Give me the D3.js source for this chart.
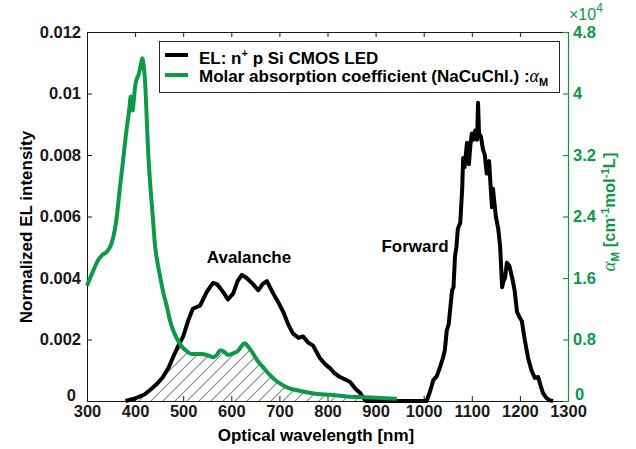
<!DOCTYPE html>
<html><head><meta charset="utf-8">
<script src="https://cdn.jsdelivr.net/npm/d3@7"></script>
<style>
body{margin:0;background:#fff;}
svg text{font-family:"Liberation Sans",Arial,Helvetica,sans-serif;}
</style></head><body>
<svg id="chart" width="636" height="449"></svg>
<script>
// ---- data ----
const elWavelength = [380,400,420,431,445,458,470,479,490,500,510,520,535,549,562,570,577,585,593,604,613,622,632,645,656,665,674,687,698,708,718,728,740,749,760,770,784,795,805,815,826,837,847,858,868,875,880,
  1000,1006,1013,1020,1027,1034,1040,1044,1048,1052,1059,1062,1065,1068,1071,1076,1080,1082,1085,1090,1094,1097,1100,1104,1107,1111,1113,1115,1119,1123,1127,1131,1136,1139,1142,1144,1150,1155,1159,1163,1166,1169,1173,1178,1184,1189,1194,1200,1204,1210,1217,1224,1231,1238,1243,1248,1255,1262,1269];
const elIntensity = [0,0.00008,0.00022,0.00036,0.00055,0.00078,0.0011,0.00143,0.0018,0.0021,0.0026,0.0030,0.0031,0.00355,0.00384,0.0038,0.00367,0.0035,0.0033,0.0035,0.0039,0.0041,0.0040,0.0038,0.0036,0.0038,0.0039,0.0035,0.0032,0.0029,0.0025,0.0022,0.00205,0.0021,0.0019,0.0018,0.0014,0.0012,0.00107,0.0009,0.00078,0.0007,0.00062,0.0004,0.00026,0.0001,0,
  0,0,0.0003,0.00068,0.0008,0.0011,0.0014,0.00166,0.0023,0.0025,0.0036,0.0037,0.0047,0.0050,0.0056,0.0058,0.0069,0.0079,0.0076,0.0084,0.0077,0.0083,0.0087,0.0085,0.0088,0.0085,0.0097,0.0087,0.0086,0.0082,0.0080,0.0074,0.0078,0.0070,0.0063,0.0069,0.0060,0.0056,0.0050,0.0037,0.0039,0.0040,0.0045,0.0044,0.0040,0.0036,0.0029,0.0027,0.0026,0.0020,0.0014,0.0010,0.00075,0.00078,0.0005,0.00026,0.0001,0.00002,0];

const absWavelength = [300,312,323,332,341,351,357,362,368,375,382,388,391,392,395,397,401,408,412,415,418,421,424,427,431,434,438,441,446,452,459,466,472,479,488,497,507,518,538,553,563,570,577,585,593,604,615,622,628,636,645,655,666,680,690,701,718,737,760,780,805,840,874,910,944];
const absCoeff = [1.50,1.68,1.83,1.90,1.94,2.05,2.20,2.40,2.75,3.13,3.52,3.80,3.96,3.80,3.78,3.90,4.13,4.26,4.38,4.46,4.35,4.13,3.70,3.26,2.85,2.61,2.30,2.05,1.82,1.62,1.40,1.23,1.06,0.92,0.80,0.71,0.65,0.61,0.61,0.59,0.57,0.60,0.66,0.64,0.60,0.62,0.66,0.72,0.75,0.70,0.62,0.52,0.44,0.34,0.28,0.23,0.17,0.14,0.11,0.09,0.08,0.06,0.05,0.04,0.03]; // x10^4

const xTicks = [300,400,500,600,700,800,900,1000,1100,1200,1300];
const yLeftTicks = [0,0.002,0.004,0.006,0.008,0.01,0.012];
const yLeftLabels = ["0","0.002","0.004","0.006","0.008","0.01","0.012"];
const yRightTicks = [0,0.8,1.6,2.4,3.2,4,4.8];
const yRightLabels = ["0","0.8","1.6","2.4","3.2","4","4.8"];

const GREEN = "#0c9a47";
const L = 87, R = 568, T = 32, B = 401;

const svg = d3.select("#chart");
const x = d3.scaleLinear().domain([300,1300]).range([L,R]);
const yL = d3.scaleLinear().domain([0,0.012]).range([B,T]);
const yR = d3.scaleLinear().domain([0,4.8]).range([B,T]);

const el = elWavelength.map((w,i)=>({w, v: elIntensity[i]}));
const ab = absWavelength.map((w,i)=>({w, v: absCoeff[i]}));

// hatch pattern
const defs = svg.append("defs");
const pat = defs.append("pattern").attr("id","hatch").attr("patternUnits","userSpaceOnUse")
  .attr("width",12).attr("height",12);
pat.append("path").attr("d","M-3,3 L3,-3 M0,12 L12,0 M9,15 L15,9")
  .attr("stroke","#8a8a8a").attr("stroke-width",1.1);
defs.append("clipPath").attr("id","underGreen").append("path")
  .attr("d", d3.area().curve(d3.curveMonotoneX).x(d=>x(d.w)).y0(B).y1(d=>yR(d.v))(ab));

svg.append("path")
  .attr("d", d3.area().x(d=>x(d.w)).y0(B).y1(d=>yL(d.v))(el.filter(d=>d.w<=950)))
  .attr("fill","url(#hatch)").attr("clip-path","url(#underGreen)");

// axes
const fs = "16.5px";
const ax = svg.append("g").attr("transform",`translate(0,${B})`)
  .call(d3.axisBottom(x).tickValues(xTicks).tickSize(-5).tickSizeOuter(0).tickPadding(4).tickFormat(d3.format("d")));
const axTop = svg.append("g").attr("transform",`translate(0,${T})`)
  .call(d3.axisTop(x).tickValues(xTicks).tickSize(-5).tickSizeOuter(0).tickFormat(""));
const ayL = svg.append("g").attr("transform",`translate(${L},0)`)
  .call(d3.axisLeft(yL).tickValues(yLeftTicks).tickSize(-5).tickSizeOuter(0).tickPadding(6)
    .tickFormat((d,i)=>yLeftLabels[i]));
const ayR = svg.append("g").attr("transform",`translate(${R},0)`)
  .call(d3.axisRight(yR).tickValues(yRightTicks).tickSize(-5).tickSizeOuter(0).tickPadding(5)
    .tickFormat((d,i)=>yRightLabels[i]));

[ax,axTop,ayL].forEach(g=>{
  g.selectAll("path,line").attr("stroke","#1a1a1a").attr("stroke-width",1);
  g.selectAll("text").attr("fill","#1a1a1a").style("font-size",fs).style("font-weight","bold")
   .style("font-family","'Liberation Sans',Arial,sans-serif");
});
ayR.selectAll("path,line").attr("stroke",GREEN).attr("stroke-width",1.2);
ayR.selectAll("text").attr("fill",GREEN).style("font-size",fs).style("font-weight","bold")
   .style("font-family","'Liberation Sans',Arial,sans-serif");
// nudge the zero labels up (as in the reference) so they clear the x tick labels
ayL.selectAll(".tick text").filter(d=>d===0).attr("transform","translate(-5,-6)");
ayR.selectAll(".tick text").filter(d=>d===0).attr("transform","translate(2,-7)");

// curves
svg.append("path").datum(el)
  .attr("d", d3.line().x(d=>x(d.w)).y(d=>yL(d.v)))
  .attr("fill","none").attr("stroke","#000").attr("stroke-width",4).attr("stroke-linejoin","round");
svg.append("path").datum(ab)
  .attr("d", d3.line().curve(d3.curveMonotoneX).x(d=>x(d.w)).y(d=>yR(d.v)))
  .attr("fill","none").attr("stroke",GREEN).attr("stroke-width",4).attr("stroke-linejoin","round");

// annotations
svg.append("text").attr("x",249).attr("y",263).attr("text-anchor","middle")
  .style("font-size","17px").style("font-weight","bold").text("Avalanche");
svg.append("text").attr("x",415).attr("y",252).attr("text-anchor","middle")
  .style("font-size","17px").style("font-weight","bold").text("Forward");

// axis titles
svg.append("text").attr("x",316).attr("y",441).attr("text-anchor","middle")
  .style("font-size","17px").style("font-weight","bold").text("Optical wavelength [nm]");
svg.append("text").attr("transform","translate(32,227) rotate(-90)").attr("text-anchor","middle")
  .style("font-size","17px").style("font-weight","bold").text("Normalized EL intensity");

const rt = svg.append("text").attr("transform","translate(615,212) rotate(-90)").attr("text-anchor","middle")
  .attr("fill",GREEN).style("font-size","16.5px").style("font-weight","bold");
rt.append("tspan").style("font-family","'Liberation Serif',serif").style("font-style","italic").style("font-weight","normal").style("font-size","19px").text("α");
rt.append("tspan").style("font-size","11.5px").attr("dy",4).text("M");
rt.append("tspan").attr("dy",-4).text(" [cm");
rt.append("tspan").style("font-size","11.5px").attr("dy",-6).text("-1");
rt.append("tspan").attr("dy",6).text("mol");
rt.append("tspan").style("font-size","11.5px").attr("dy",-6).text("-1");
rt.append("tspan").attr("dy",6).text("L]");

const ex = svg.append("text").attr("x",569).attr("y",20).attr("fill",GREEN).style("font-size","16px");
ex.append("tspan").text("×10");
ex.append("tspan").attr("dy",-8).style("font-size","12px").text("4");

// legend
const lg = svg.append("g");
lg.append("rect").attr("x",159.5).attr("y",41.5).attr("width",400).attr("height",51)
  .attr("fill","#fff").attr("stroke","#262626").attr("stroke-width",1);
lg.append("line").attr("x1",165).attr("x2",188).attr("y1",55).attr("y2",55).attr("stroke","#000").attr("stroke-width",4);
lg.append("line").attr("x1",165).attr("x2",188).attr("y1",75).attr("y2",75).attr("stroke",GREEN).attr("stroke-width",4);
const t1 = lg.append("text").attr("x",199).attr("y",63.5).style("font-size","17px").style("font-weight","bold");
t1.append("tspan").text("EL: n");
t1.append("tspan").attr("dy",-7).style("font-size","11px").text("+");
t1.append("tspan").attr("dy",7).text(" p Si CMOS LED");
const t2 = lg.append("text").attr("x",199).attr("y",81.5).style("font-size","17px").style("font-weight","bold");
t2.append("tspan").text("Molar absorption coefficient (NaCuChl.) :");
t2.append("tspan").style("font-family","'Liberation Serif',serif").style("font-style","italic").style("font-weight","normal").style("font-size","18px").text("α");
t2.append("tspan").attr("dy",4).style("font-size","11px").text("M");
</script>
</body></html>
